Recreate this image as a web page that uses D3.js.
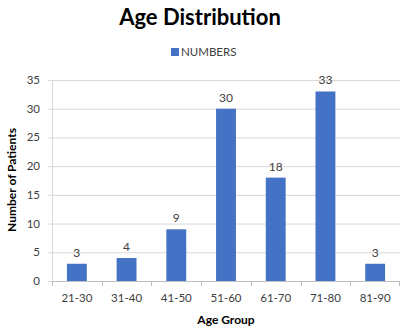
<!DOCTYPE html>
<html><head><meta charset="utf-8">
<script src="https://cdn.jsdelivr.net/npm/d3@7"></script>
<style>body{margin:0;background:#fff}svg{display:block}text{font-family:Lato,"Open Sans",sans-serif}</style>
</head><body>
<svg id="c" width="400" height="329"></svg>
<script>
const categories = ["21-30","31-40","41-50","51-60","61-70","71-80","81-90"];
const values = [3,4,9,30,18,33,3];
const yTicks = [0,5,10,15,20,25,30,35];
const title = "Age Distribution";
const seriesName = "NUMBERS";
const xTitle = "Age Group";
const yTitle = "Number of Patients";

const svg = d3.select("#c");
const m = {l:52, r:0, t:80, b:48};
const W = 400, H = 329;
const x = d3.scaleBand().domain(categories).range([m.l, W - m.r]).paddingInner(0.6).paddingOuter(0.3);
const y = d3.scaleLinear().domain([0,35]).range([H - m.b, m.t]);

// gridlines
svg.append("g").selectAll("line").data(yTicks).join("line")
  .attr("x1", m.l - 4).attr("x2", W).attr("y1", d => y(d)+0.5).attr("y2", d => y(d)+0.5)
  .attr("stroke", "#d9d9d9").attr("stroke-width", 1);
// y axis line
svg.append("line").attr("x1", m.l+0.5).attr("x2", m.l+0.5).attr("y1", y(35)).attr("y2", y(0))
  .attr("stroke", "#d9d9d9");
// y labels
svg.append("g").selectAll("text").data(yTicks).join("text")
  .attr("x", 40).attr("y", d => y(d)).attr("dy", "0.35em").attr("text-anchor", "end")
  .attr("font-size", 11.5).attr("fill", "#404040").text(d => d);
// x axis
const bounds = d3.range(categories.length + 1).map(i => m.l + i * (W - m.l) / categories.length);
svg.append("line").attr("x1", m.l).attr("x2", W).attr("y1", y(0)+0.5).attr("y2", y(0)+0.5).attr("stroke", "#bfbfbf");
svg.append("g").selectAll("line").data(bounds).join("line")
  .attr("x1", d => Math.min(Math.round(d)+0.5, W-0.5)).attr("x2", d => Math.min(Math.round(d)+0.5, W-0.5))
  .attr("y1", y(0)).attr("y2", y(0)+5).attr("stroke", "#bfbfbf");
svg.append("g").selectAll("text").data(categories).join("text")
  .attr("x", d => x(d) + x.bandwidth()/2).attr("y", y(0) + 21).attr("text-anchor", "middle")
  .attr("font-size", 11.5).attr("fill", "#404040").text(d => d);

// bars
svg.append("g").selectAll("rect").data(values).join("rect")
  .attr("x", (d,i) => x(categories[i])).attr("width", x.bandwidth())
  .attr("y", d => y(d)).attr("height", d => y(0) - y(d)).attr("fill", "#4472c4");
svg.append("g").selectAll("text").data(values).join("text")
  .attr("x", (d,i) => x(categories[i]) + x.bandwidth()/2).attr("y", d => y(d) - 7)
  .attr("text-anchor", "middle").attr("font-size", 12).attr("fill", "#404040").text(d => d);

// title
svg.append("text").attr("x", 200).attr("y", 25).attr("text-anchor", "middle")
  .attr("font-size", 22).attr("font-weight", "bold").attr("fill", "#000").text(title);
// legend
svg.append("rect").attr("x", 171).attr("y", 48).attr("width", 8).attr("height", 8).attr("fill", "#4472c4");
svg.append("text").attr("x", 181).attr("y", 52).attr("dy", "0.35em").attr("font-size", 11.5).attr("fill", "#404040").text(seriesName);
// axis titles
svg.append("text").attr("x", 226).attr("y", 324).attr("text-anchor", "middle")
  .attr("font-size", 12).attr("font-weight", "bold").attr("fill", "#000").text(xTitle);
svg.append("text").attr("transform", "translate(16,180) rotate(-90)").attr("text-anchor", "middle")
  .attr("font-size", 12).attr("font-weight", "bold").attr("fill", "#000").text(yTitle);
</script>
</body></html>
